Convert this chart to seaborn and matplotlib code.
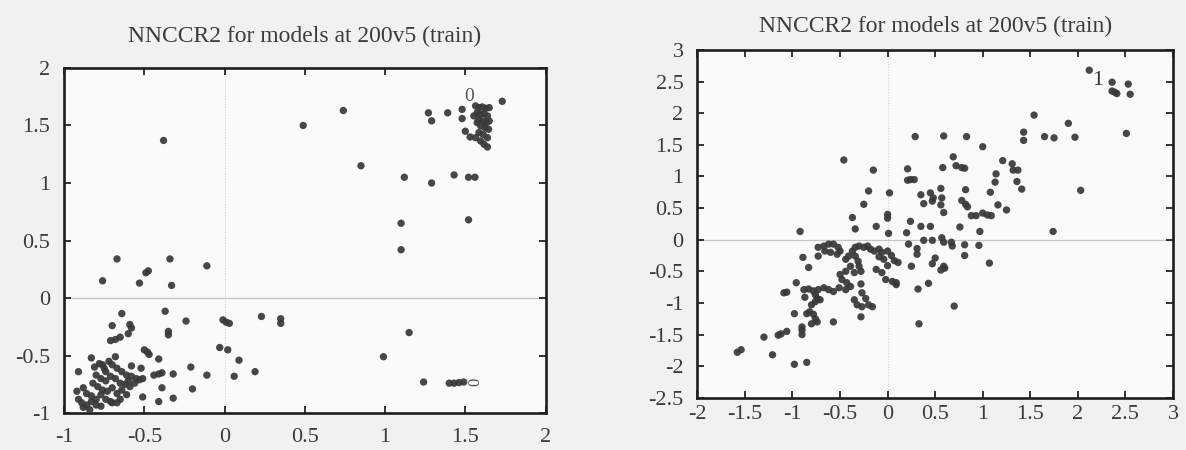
import numpy as np
import pandas as pd
import matplotlib
matplotlib.use("Agg")
import matplotlib.pyplot as plt
import seaborn as sns

# ---------------- data: left panel ----------------
left_x = [
    1.73, 0.74, 0.49, 0.85, -0.38,
    1.27, 1.29, 1.39, 1.48, 1.48, 1.50, 1.53,
    1.564, 1.585, 1.606, 1.628, 1.649, 1.574, 1.596, 1.617, 1.638, 1.585,
    1.611, 1.632, 1.649, 1.596, 1.623, 1.645, 1.585, 1.611, 1.638, 1.564,
    1.596, 1.617, 1.638, 1.553, 1.574,
    1.12, 1.29, 1.43, 1.52, 1.56, 1.52, 1.10, 1.10, 0.35, 1.15, 0.99, 1.24,
    1.40, 1.43, 1.46, 1.49,
    -0.67, -0.34, -0.475, -0.49, -0.11, -0.76, -0.53, -0.33,
    -0.64, -0.37, -0.24, -0.01, 0.01, 0.03, 0.23, 0.35,
    -0.70, -0.59, -0.58, -0.60, -0.65, -0.68, -0.71,
    -0.35, -0.35, -0.03, 0.02, 0.09, 0.19, 0.06, -0.11, -0.21, -0.32,
    -0.20, -0.39, -0.32, -0.41, -0.51,
    -0.50, -0.48, -0.47, -0.41, -0.52, -0.58, -0.44, -0.41, -0.39, -0.51,
    -0.91, -0.83, -0.68,
    -0.81, -0.78, -0.75, -0.72, -0.70, -0.67, -0.64, -0.61, -0.58, -0.55, -0.53,
    -0.80, -0.77, -0.74, -0.71, -0.68, -0.65, -0.62, -0.59, -0.56,
    -0.82, -0.79, -0.76, -0.73, -0.70, -0.67, -0.64, -0.61,
    -0.88, -0.86, -0.83, -0.80, -0.77, -0.74, -0.71,
    -0.91, -0.89, -0.86, -0.83, -0.80, -0.77, -0.88, -0.84,
    -0.92, -0.70, -0.67, -0.65, -0.60, -0.74, -0.76,
]
left_y = [
    1.71, 1.63, 1.50, 1.15, 1.37,
    1.61, 1.54, 1.61, 1.64, 1.56, 1.45, 1.40,
    1.670, 1.655, 1.661, 1.649, 1.655, 1.612, 1.597, 1.603, 1.583, 1.554,
    1.539, 1.525, 1.539, 1.496, 1.481, 1.467, 1.438, 1.423, 1.394, 1.394,
    1.365, 1.336, 1.313, 1.583, 1.525,
    1.05, 1.00, 1.07, 1.05, 1.05, 0.68, 0.65, 0.42, -0.22, -0.30, -0.51, -0.73,
    -0.74, -0.74, -0.735, -0.73,
    0.34, 0.34, 0.236, 0.22, 0.28, 0.15, 0.13, 0.11,
    -0.135, -0.115, -0.20, -0.19, -0.21, -0.22, -0.16, -0.18,
    -0.24, -0.23, -0.26, -0.31, -0.34, -0.36, -0.37,
    -0.29, -0.32, -0.43, -0.45, -0.54, -0.64, -0.68, -0.67, -0.60, -0.66,
    -0.79, -0.78, -0.87, -0.90, -0.86,
    -0.45, -0.47, -0.49, -0.53, -0.61, -0.59, -0.67, -0.66, -0.65, -0.70,
    -0.64, -0.52, -0.51,
    -0.60, -0.57, -0.61, -0.55, -0.58, -0.61, -0.64, -0.67, -0.68, -0.70, -0.71,
    -0.67, -0.70, -0.72, -0.68, -0.70, -0.74, -0.75, -0.77, -0.74,
    -0.74, -0.77, -0.80, -0.81, -0.78, -0.83, -0.80, -0.84,
    -0.78, -0.83, -0.85, -0.88, -0.84, -0.88, -0.90,
    -0.88, -0.91, -0.93, -0.90, -0.93, -0.94, -0.95, -0.97,
    -0.81, -0.91, -0.91, -0.88, -0.72, -0.64, -0.58,
]

# ---------------- data: right panel ----------------
right_x = [
    2.12, 2.36, 2.36, 2.39, 2.41, 2.53, 2.55, 2.51, 1.54, 1.90, 1.43, 1.43,
    1.65, 1.75, 1.97, 2.03, 1.74,
    0.29, 0.59, 0.83, 1.00, 0.69, 0.72, 0.78, 0.81, 0.58, 1.21, 1.31, 1.32,
    1.37, 1.14, 1.13, 1.36, 1.41,
    0.21, 0.21, 0.24, 0.28, 0.02,
    0.35, 0.38, 0.45, 0.47, 0.48,
    0.56, 0.57, 0.56, 0.59, 0.82, 0.78, 0.82, 0.84, 0.88, 0.93, 1.00, 1.05,
    1.09, 1.08, 1.16, 1.25,
    0.00, 0.24, 0.20, 0.35, 0.45, 0.38, 0.47, 0.57, 0.59, 0.67, 0.68, 0.76,
    0.81, 0.97, 0.96, 0.81, 1.07,
    0.22, 0.31, 0.31, 0.50, 0.47, 0.59, 0.56, 0.60, 0.25, 0.43, 0.04, 0.07,
    0.11, 0.00, 0.09,
    0.00, 0.00, 0.01, 0.70,
    -0.92, -0.25, -0.37, -0.34, -0.12, -0.46, -0.15, -0.20,
    -0.73, -0.67, -0.62, -0.57, -0.52, -0.50, -0.53, -0.60, -0.66, -0.73,
    -0.44, -0.41, -0.37, -0.34, -0.30, -0.25, -0.21, -0.18, -0.14, -0.09,
    -0.06, -0.09, -0.04, -0.34, -0.31, -0.30, -0.39, -0.44, -0.50, -0.48,
    -0.43, -0.39, -0.44, -0.51, -0.57, -0.62, -0.67, -0.73, -0.78, -0.83,
    -0.88, -0.35, -0.28, -0.28, -0.27, -0.23, -0.20, -0.16, -0.35, -0.32,
    -0.27, -0.28, -0.12, -0.06, -0.02, 0.05, 0.09, -0.76, -0.74, -0.71,
    -0.76, -0.80, -0.82, -0.78, -0.76, -0.74, -0.80, -0.85, -0.87, -0.96,
    -0.89, -0.83, -0.98, -0.90, -0.90, -0.90, -1.06, -1.09, -1.12, -1.15,
    -1.06, -1.30, -1.54, -1.58, -1.21, -0.98, -0.85, -0.57, 0.32, 0.33,
]
right_y = [
    2.68, 2.49, 2.35, 2.33, 2.31, 2.46, 2.30, 1.68, 1.97, 1.84, 1.70, 1.57,
    1.63, 1.61, 1.62, 0.78, 0.13,
    1.63, 1.64, 1.63, 1.47, 1.31, 1.17, 1.14, 1.13, 1.14, 1.25, 1.20, 1.10,
    1.10, 1.04, 0.91, 0.92, 0.80,
    1.12, 0.94, 0.95, 0.95, 0.74,
    0.71, 0.57, 0.74, 0.61, 0.66,
    0.81, 0.66, 0.55, 0.43, 0.79, 0.62, 0.56, 0.52, 0.38, 0.38, 0.42, 0.39,
    0.38, 0.75, 0.55, 0.47,
    -0.18, 0.29, 0.11, 0.21, 0.21, -0.01, -0.01, 0.03, -0.04, -0.04, -0.10, 0.20,
    -0.08, 0.13, -0.09, -0.25, -0.37,
    -0.07, -0.14, -0.23, -0.29, -0.38, -0.42, -0.48, -0.45, -0.42, -0.69, -0.25, -0.33,
    -0.36, -0.41, -0.71,
    0.40, 0.34, 0.10, -1.05,
    0.13, 0.56, 0.35, 0.17, 0.21, 1.26, 1.10, 0.77,
    -0.12, -0.10, -0.07, -0.07, -0.12, -0.18, -0.23, -0.20, -0.18, -0.26,
    -0.31, -0.26, -0.18, -0.12, -0.10, -0.12, -0.10, -0.15, -0.18, -0.15,
    -0.20, -0.27, -0.31, -0.26, -0.34, -0.42, -0.42, -0.50, -0.55, -0.63,
    -0.68, -0.74, -0.79, -0.76, -0.82, -0.79, -0.76, -0.79, -0.81, -0.78,
    -0.79, -0.52, -0.50, -0.70, -0.84, -0.93, -1.03, -1.06, -0.95, -1.03,
    -1.06, -1.22, -0.47, -0.52, -0.63, -0.66, -0.68, -0.87, -0.93, -0.95,
    -0.98, -1.03, -1.14, -1.18, -1.25, -1.30, -1.33, -1.17, -0.91, -0.68,
    -0.28, -0.44, -1.17, -1.43, -1.50, -1.38, -0.83, -0.84, -1.49, -1.51,
    -1.45, -1.54, -1.74, -1.78, -1.82, -1.97, -1.94, -1.30, -0.78, -1.33,
]

title_text = "NNCCR2 for models at 200v5 (train)"
left_xticks = [-1, -0.5, 0, 0.5, 1, 1.5, 2]
left_xlabels = ["-1", "-0.5", "0", "0.5", "1", "1.5", "2"]
left_yticks = [-1, -0.5, 0, 0.5, 1, 1.5, 2]
left_ylabels = ["-1", "-0.5", "0", "0.5", "1", "1.5", "2"]
right_xticks = [-2, -1.5, -1, -0.5, 0, 0.5, 1, 1.5, 2, 2.5, 3]
right_xlabels = ["-2", "-1.5", "-1", "-0.5", "0", "0.5", "1", "1.5", "2", "2.5", "3"]
right_yticks = [-2.5, -2, -1.5, -1, -0.5, 0, 0.5, 1, 1.5, 2, 2.5, 3]
right_ylabels = ["-2.5", "-2", "-1.5", "-1", "-0.5", "0", "0.5", "1", "1.5", "2", "2.5", "3"]

# ---------------- style ----------------
sns.set_theme(style="ticks")
plt.rcParams["font.family"] = ["Liberation Serif", "DejaVu Serif"]
TEXT = "#3c3c3c"
DOT = "#383838"

fig = plt.figure(figsize=(11.86, 4.5), dpi=100, facecolor="#f1f1ef")
axL = fig.add_axes([0.054, 0.082, 0.406, 0.767])
axR = fig.add_axes([0.588, 0.116, 0.401, 0.773])

dfL = pd.DataFrame({"x": left_x, "y": left_y})
dfR = pd.DataFrame({"x": right_x, "y": right_y})


def style_axes(ax, xlim, ylim, xt, xl, yt, yl, pad, xpad):
    ax.set_facecolor("#fafaf9")
    ax.axhline(0, color="#c4c4c4", lw=0.9, zorder=0)
    ax.axvline(0, color="#d2d2d2", lw=0.8, ls=(0, (1, 1.5)), zorder=0)
    ax.set_xlim(*xlim)
    ax.set_ylim(*ylim)
    ax.set_xticks(xt)
    ax.set_xticklabels(xl)
    ax.set_yticks(yt)
    ax.set_yticklabels(yl)
    ax.tick_params(direction="in", top=True, right=True, length=5, width=1.3,
                   labelsize=16, labelcolor=TEXT, color="#222222")
    ax.tick_params(axis="y", pad=10)
    ax.tick_params(axis="x", pad=xpad)
    for s in ax.spines.values():
        s.set_visible(True)
        s.set_linewidth(1.9)
        s.set_color("#1e1e1e")
    ax.set_xlabel("")
    ax.set_ylabel("")
    ax.set_title(title_text, fontsize=17, color=TEXT, pad=pad)


sns.scatterplot(data=dfL, x="x", y="y", ax=axL, s=28, color=DOT,
                edgecolor="none", linewidth=0, alpha=0.92, zorder=3)
style_axes(axL, (-1, 2), (-1, 2), left_xticks, left_xlabels,
           left_yticks, left_ylabels, 19, 11)
axL.text(1.525, 1.68, "0", fontsize=14, color="#555555", ha="center",
         va="bottom", zorder=2)
axL.text(1.56, -0.725, "0", fontsize=12, color="#555555", rotation=90,
         ha="center", va="center", zorder=2)

sns.scatterplot(data=dfR, x="x", y="y", ax=axR, s=28, color=DOT,
                edgecolor="none", linewidth=0, alpha=0.92, zorder=3)
style_axes(axR, (-2, 3), (-2.5, 3), right_xticks, right_xlabels,
           right_yticks, right_ylabels, 13, 5)
axR.text(2.21, 2.52, "1", fontsize=16, color="#333333", ha="center",
         va="center", zorder=4)

fig.savefig("out.png", dpi=100, facecolor=fig.get_facecolor())
